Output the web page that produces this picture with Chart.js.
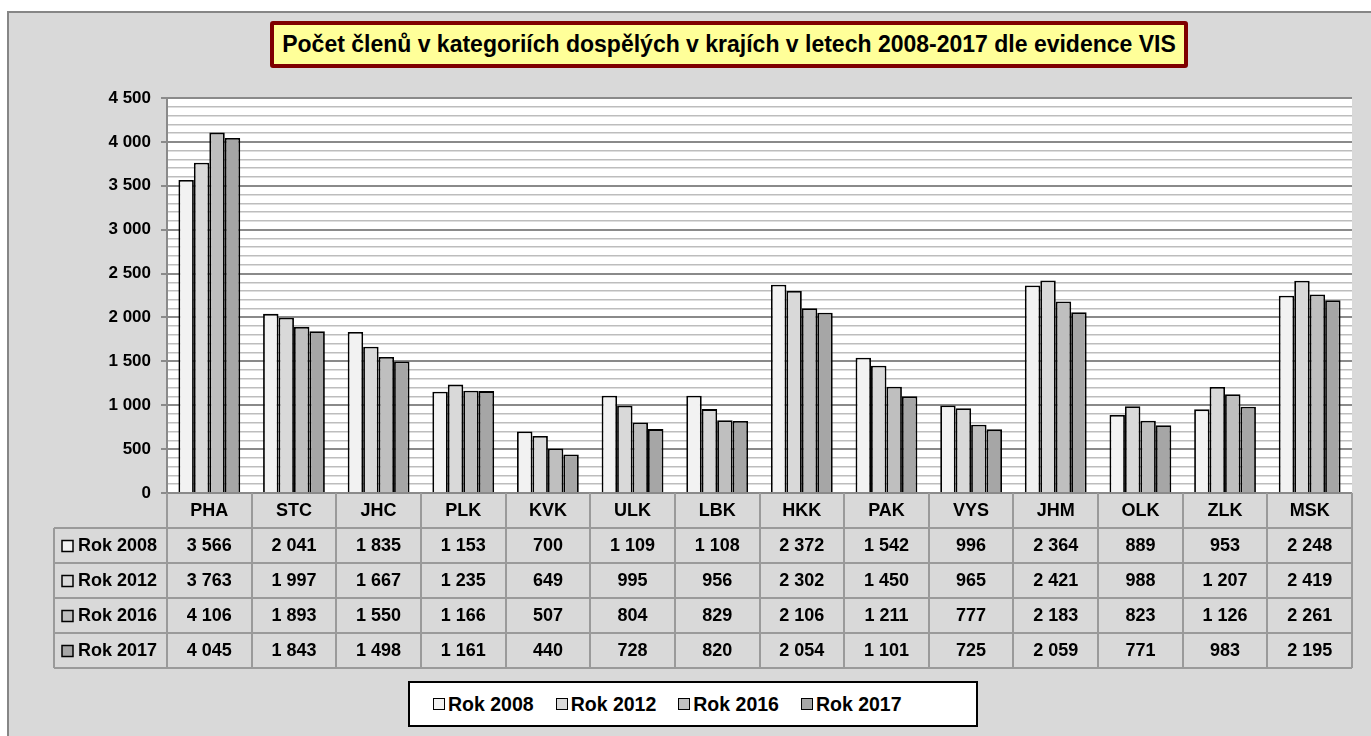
<!DOCTYPE html>
<html lang="cs">
<head>
<meta charset="utf-8">
<title>Počet členů v kategoriích dospělých</title>
<script src="https://cdn.jsdelivr.net/npm/chart.js@4/dist/chart.umd.min.js"></script>
<style>
  html, body { margin: 0; padding: 0; background: #fff; }
  #wrap { position: relative; width: 1371px; height: 736px; }
  #title {
    position: absolute; left: 270px; top: 21px; width: 910px; height: 39px;
    background: #ffff99; border: 4px solid #7f0000; border-radius: 3px;
    font: bold 23px "Liberation Sans", Arial, sans-serif; color: #000;
    display: flex; align-items: center; justify-content: center; white-space: nowrap;
  }
  #legend {
    position: absolute; left: 408px; top: 681px; width: 566px; height: 42px;
    background: #fff; border: 2px solid #000; box-sizing: content-box;
    display: flex; align-items: center; justify-content: flex-start; gap: 22px;
    padding-left: 0; 
    font: bold 19.5px "Liberation Sans", Arial, sans-serif; color: #000;
  }
  #legend span.item { display: flex; align-items: center; gap: 3px; }
  #legend span.item:first-child { margin-left: 23px; }
  #legend i { display: inline-block; width: 10px; height: 10px; border: 1.5px solid #000; }
</style>
</head>
<body>
<div id="wrap">
  <canvas id="c" width="1371" height="736"></canvas>
  <div id="title">Počet členů v kategoriích dospělých v krajích v letech 2008-2017 dle evidence VIS</div>
  <div id="legend"></div>
</div>
<script>
// kraje a počty členů podle let
const categories = ["PHA", "STC", "JHC", "PLK", "KVK", "ULK", "LBK", "HKK", "PAK", "VYS", "JHM", "OLK", "ZLK", "MSK"];
const rok2008 = [3566, 2041, 1835, 1153, 700, 1109, 1108, 2372, 1542, 996, 2364, 889, 953, 2248];
const rok2012 = [3763, 1997, 1667, 1235, 649, 995, 956, 2302, 1450, 965, 2421, 988, 1207, 2419];
const rok2016 = [4106, 1893, 1550, 1166, 507, 804, 829, 2106, 1211, 777, 2183, 823, 1126, 2261];
const rok2017 = [4045, 1843, 1498, 1161, 440, 728, 820, 2054, 1101, 725, 2059, 771, 983, 2195];
const seriesNames = ["Rok 2008", "Rok 2012", "Rok 2016", "Rok 2017"];
const seriesData = [rok2008, rok2012, rok2016, rok2017];
const seriesColors = ["#f2f2f2", "#d9d9d9", "#bfbfbf", "#a6a6a6"];
const yMax = 4500;
const yStep = 100;
const yMajor = 500;

const FONT = '"Liberation Sans", Arial, sans-serif';
const MAJOR = "#8a8a8a";
const MINOR = "#bdbdbd";
const TABLE_LINE = "#9a9a9a";

function fmt(v) {
  return String(v).replace(/\B(?=(\d{3})+(?!\d))/g, " ");
}

// šedé pozadí s rámečkem a bílá plocha grafu
const background = {
  id: "background",
  beforeDraw(chart) {
    const { ctx, chartArea: a } = chart;
    ctx.save();
    ctx.fillStyle = "#d9d9d9";
    ctx.fillRect(8, 11, chart.width - 8, chart.height - 11);
    ctx.strokeStyle = "#868686";
    ctx.lineWidth = 2;
    ctx.beginPath();
    ctx.moveTo(8, chart.height);
    ctx.lineTo(8, 12);
    ctx.lineTo(chart.width, 12);
    ctx.stroke();
    ctx.fillStyle = "#fff";
    ctx.fillRect(a.left, a.top, a.right - a.left, a.bottom - a.top);
    ctx.restore();
  },
};

// datová tabulka pod grafem
const dataTable = {
  id: "dataTable",
  afterDraw(chart) {
    const { ctx, chartArea: a, scales } = chart;
    const x = scales.x;
    const n = categories.length;
    const w = (a.right - a.left) / n;
    const rowH = 35;
    const top = a.bottom;
    const labelLeft = 54;
    ctx.save();
    ctx.strokeStyle = TABLE_LINE;
    ctx.lineWidth = 2;
    ctx.beginPath();
    for (let i = 0; i <= n; i++) {
      const px = Math.round(a.left + i * w);
      ctx.moveTo(px, top);
      ctx.lineTo(px, top + 5 * rowH);
    }
    for (let r = 1; r <= 5; r++) {
      ctx.moveTo(labelLeft, top + r * rowH);
      ctx.lineTo(a.right, top + r * rowH);
    }
    ctx.moveTo(labelLeft, top + rowH);
    ctx.lineTo(labelLeft, top + 5 * rowH);
    ctx.stroke();

    ctx.fillStyle = "#000";
    ctx.font = "bold 18px " + FONT;
    ctx.textAlign = "center";
    ctx.textBaseline = "middle";
    categories.forEach((c, i) => ctx.fillText(c, x.getPixelForValue(i), top + rowH / 2 + 1));

    seriesData.forEach((vals, r) => {
      const cy = top + (r + 1.5) * rowH + 1;
      ctx.fillStyle = seriesColors[r];
      ctx.fillRect(62, cy - 6, 11, 11);
      ctx.strokeStyle = "#000";
      ctx.lineWidth = 1.5;
      ctx.strokeRect(62, cy - 6, 11, 11);
      ctx.fillStyle = "#000";
      ctx.textAlign = "left";
      ctx.fillText(seriesNames[r], 78, cy);
      ctx.textAlign = "center";
      vals.forEach((v, i) => ctx.fillText(fmt(v), x.getPixelForValue(i), cy));
    });
    ctx.restore();
  },
};

const legendEl = document.getElementById("legend");
seriesNames.forEach((name, i) => {
  const item = document.createElement("span");
  item.className = "item";
  const sw = document.createElement("i");
  sw.style.background = seriesColors[i];
  item.appendChild(sw);
  item.appendChild(document.createTextNode(name));
  legendEl.appendChild(item);
});

new Chart(document.getElementById("c"), {
  type: "bar",
  data: {
    labels: categories,
    datasets: seriesNames.map((name, i) => ({
      label: name,
      data: seriesData[i],
      backgroundColor: seriesColors[i],
      borderColor: "#000",
      borderWidth: 1.8,
      categoryPercentage: 0.73,
      barPercentage: 1.0,
    })),
  },
  options: {
    responsive: false,
    animation: false,
    layout: { padding: { left: 0, top: 98, right: 19, bottom: 243 } },
    plugins: { legend: { display: false }, title: { display: false }, tooltip: { enabled: false } },
    scales: {
      x: { display: false },
      y: {
        min: 0,
        max: yMax,
        afterFit: (s) => { s.width = 167; },
        border: { color: MAJOR, width: 2 },
        grid: {
          color: (c) => (c.tick && c.tick.value % yMajor === 0 ? MAJOR : MINOR),
          lineWidth: (c) => (c.tick && c.tick.value % yMajor === 0 ? 2 : 1.5),
          tickColor: (c) => (c.tick && c.tick.value % yMajor === 0 ? MAJOR : "rgba(0,0,0,0)"),
          tickLength: 6,
        },
        ticks: {
          stepSize: yStep,
          autoSkip: false,
          padding: 10,
          color: "#000",
          font: { family: FONT, size: 17, weight: "bold" },
          callback: (v) => (v % yMajor === 0 ? fmt(v) : ""),
        },
      },
    },
  },
  plugins: [background, dataTable],
});
</script>
</body>
</html>
